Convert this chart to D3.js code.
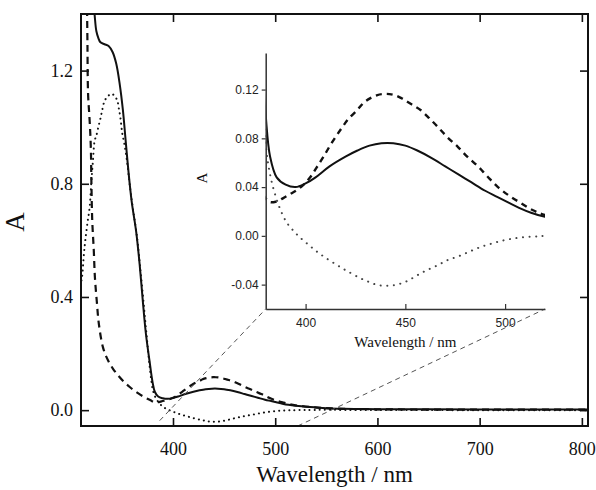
<!DOCTYPE html>
<html><head><meta charset="utf-8">
<script src="https://cdn.jsdelivr.net/npm/d3@7"></script>
<style>
html,body{margin:0;padding:0;background:#fff;}
svg{display:block;}
</style></head>
<body>
<svg id="chart" width="596" height="490"></svg>
<script>
// ---- data (wavelength nm, absorbance) ----
const solidNm = [322,323.5,325,327,329,333,337,341,344.5,347.8,351,353.5,356,359.5,364,367.5,370.6,373.5,377,380,382.2,385.5,390,395,400,405,412,420,426,432,438,444,450,456,463,470,477,483,490,496,502,507,513,520,534,550,566,583,600,650,700,750,806];
const solidA  = [1.46,1.39,1.34,1.315,1.30,1.293,1.287,1.265,1.224,1.154,1.06,0.96,0.86,0.74,0.63,0.51,0.38,0.27,0.175,0.099,0.065,0.048,0.042,0.040,0.043,0.048,0.057,0.065,0.070,0.074,0.076,0.076,0.074,0.070,0.064,0.057,0.050,0.044,0.037,0.032,0.027,0.023,0.019,0.0156,0.011,0.007,0.005,0.004,0.0035,0.003,0.0025,0.002,0.002];

const dashedNm = [315.8,316.3,316.9,318.5,319.6,320.2,321,322.5,323.6,325.6,327.4,331.5,336.4,341,346,352,358,365,372,378,381.7,385,388.8,392,395.6,399,402.3,405.5,409,413,417.5,421.5,425.8,429,432.5,436,439.3,442,444.3,448,451,454.5,457.8,462,466.2,471,476.3,481,486.4,491,496.4,502,508.2,514,520,535,550,575,600,650,700,750,806];
const dashedA  = [1.46,1.30,1.12,1.02,0.93,0.80,0.67,0.565,0.47,0.378,0.307,0.222,0.176,0.148,0.124,0.10,0.081,0.062,0.046,0.035,0.028,0.028,0.031,0.034,0.0375,0.042,0.048,0.056,0.065,0.076,0.087,0.096,0.103,0.109,0.113,0.1155,0.1164,0.1163,0.1156,0.113,0.110,0.1065,0.103,0.0965,0.0895,0.081,0.073,0.065,0.057,0.049,0.040,0.033,0.0266,0.021,0.017,0.011,0.007,0.004,0.003,0.002,0.002,0.002,0.002];

const dottedNm = [309.5,311,312.9,314.2,316.2,318.5,320,321.7,323.4,325,327.3,329.3,330.8,333.2,336.5,339.6,342.5,345.5,347,348.5,350.3,352.5,355,357.6,360.5,364.5,368,371.2,374.3,377,379,380.5,382,384,387,390.5,394,397.3,401.6,405.7,410,415.8,421,427.8,432,436.1,441,446.2,451,456.3,461,466.3,471,476.3,482,488,494,499.8,505,509.8,515,519.8,540,600,700,806];
const dottedA  = [0.44,0.47,0.554,0.60,0.659,0.718,0.80,0.882,0.953,0.97,1.006,1.035,1.061,1.094,1.11,1.118,1.112,1.094,1.066,1.035,0.98,0.94,0.88,0.80,0.72,0.62,0.50,0.38,0.26,0.16,0.10,0.068,0.052,0.038,0.023,0.011,0.004,-0.0015,-0.0075,-0.013,-0.018,-0.024,-0.029,-0.035,-0.038,-0.0403,-0.041,-0.0398,-0.037,-0.032,-0.028,-0.024,-0.020,-0.017,-0.013,-0.009,-0.006,-0.0035,-0.002,-0.001,-0.0005,0.0,0.001,0.0005,0.0,0.0];

const mainXTicks = [400,500,600,700,800];
const mainYTicks = [0.0,0.4,0.8,1.2];
const insetXTicks = [400,450,500];
const insetYTicks = [-0.04,0.00,0.04,0.08,0.12];
const insetYTickLabels = ["-0.04","0.00","0.04","0.08","0.12"];

// zoom connector lines: main point (nm, A) -> inset corner (nm, A)
const zoomFromNm = [387, 522];
const zoomFromA  = [-0.037, -0.056];
const zoomToNm   = [380, 520];
const zoomToA    = [-0.06, -0.06];

const xLabel = "Wavelength / nm";
const yLabel = "A";

// ---- layout ----
const svg = d3.select("#chart");
const M = {l:81, t:14, r:588, b:426};
const x = d3.scaleLinear().domain([310,806]).range([M.l, M.r]);
const y = d3.scaleLinear().domain([-0.056,1.4]).range([M.b, M.t]);

const I = {l:265.7, t:53, r:545, b:309};
const xi = d3.scaleLinear().domain([380,520]).range([I.l, I.r]);
const yi = d3.scaleLinear().domain([-0.06,0.15]).range([I.b, I.t]);

const serif = "'Liberation Serif','Times New Roman',serif";
const sans = "'Liberation Sans',Arial,sans-serif";

const defs = svg.append("defs");
defs.append("clipPath").attr("id","clipMain").append("rect")
  .attr("x",M.l).attr("y",M.t).attr("width",M.r-M.l).attr("height",M.b-M.t);
defs.append("clipPath").attr("id","clipInset").append("rect")
  .attr("x",I.l).attr("y",I.t-2).attr("width",I.r-I.l).attr("height",I.b-I.t+2);

const series = [
  {nm: solidNm, a: solidA, dash: null, w: 2, wi: 2},
  {nm: dashedNm, a: dashedA, dash: "7,5", w: 2.2, wi: 2.4, dashi: "6,5"},
  {nm: dottedNm, a: dottedA, dash: "0.1,5", w: 2, wi: 2, dashi: "0.1,6.5", cap: true}
];

// ---- main plot ----
const gMain = svg.append("g").attr("clip-path","url(#clipMain)");
series.forEach(s => {
  const pts = s.nm.map((v,i)=>[v, s.a[i]]);
  const line = d3.line().x(d=>x(d[0])).y(d=>y(d[1])).curve(d3.curveCatmullRom.alpha(0.5));
  gMain.append("path").attr("d", line(pts)).attr("fill","none")
    .attr("stroke","#111").attr("stroke-width", s.w)
    .attr("stroke-dasharray", s.dash).attr("stroke-linecap", s.cap ? "round" : "butt")
    .attr("stroke-linejoin","round");
});

// zoom connector lines
zoomFromNm.forEach((v,i)=>{
  svg.append("line")
    .attr("x1", x(v)).attr("y1", y(zoomFromA[i]))
    .attr("x2", xi(zoomToNm[i])).attr("y2", yi(zoomToA[i]))
    .attr("stroke","#555").attr("stroke-width",1).attr("stroke-dasharray","5,4");
});

// main axes
function styleAxis(g){
  g.select(".domain").remove();
  g.selectAll(".tick line").attr("stroke","#111").attr("stroke-width",1.6);
}
svg.append("g").attr("transform",`translate(0,${M.b})`)
  .call(d3.axisBottom(x).tickValues(mainXTicks).tickSize(-8).tickPadding(16).tickFormat(d3.format("d")))
  .call(styleAxis)
  .selectAll("text").attr("font-family",serif).attr("font-size",18).attr("fill","#111");
svg.append("g").attr("transform",`translate(0,${M.t})`)
  .call(d3.axisTop(x).tickValues(mainXTicks).tickSize(-8).tickFormat(""))
  .call(styleAxis);
svg.append("g").attr("transform",`translate(${M.l},0)`)
  .call(d3.axisLeft(y).tickValues(mainYTicks).tickSize(-8).tickPadding(8).tickFormat(d3.format(".1f")))
  .call(styleAxis)
  .selectAll("text").attr("font-family",serif).attr("font-size",18).attr("fill","#111");
svg.append("g").attr("transform",`translate(${M.r},0)`)
  .call(d3.axisRight(y).tickValues(mainYTicks).tickSize(-8).tickFormat(""))
  .call(styleAxis);

svg.append("rect").attr("x",M.l).attr("y",M.t).attr("width",M.r-M.l).attr("height",M.b-M.t)
  .attr("fill","none").attr("stroke","#111").attr("stroke-width",2);

svg.append("text").attr("x",(M.l+M.r)/2).attr("y",482).attr("text-anchor","middle")
  .attr("font-family",serif).attr("font-size",23).attr("fill","#111").text(xLabel);
svg.append("text").attr("transform",`translate(24,222) rotate(-90)`).attr("text-anchor","middle")
  .attr("font-family",serif).attr("font-size",27).attr("fill","#111").text(yLabel);

// ---- inset ----
const gIn = svg.append("g").attr("clip-path","url(#clipInset)");
series.forEach(s => {
  const pts = s.nm.map((v,i)=>[v, s.a[i]]).filter(d=>d[0]>=360 && d[0]<=540);
  const line = d3.line().x(d=>xi(d[0])).y(d=>yi(d[1])).curve(d3.curveCatmullRom.alpha(0.5));
  gIn.append("path").attr("d", line(pts)).attr("fill","none")
    .attr("stroke", s.cap ? "#444" : "#111").attr("stroke-width", s.wi)
    .attr("stroke-dasharray", s.dashi || null).attr("stroke-linecap", s.cap ? "round" : "butt")
    .attr("stroke-linejoin","round");
});

const axInB = svg.append("g").attr("transform",`translate(0,${I.b})`)
  .call(d3.axisBottom(xi).tickValues(insetXTicks).tickSize(-5).tickSizeOuter(0).tickPadding(9.5).tickFormat(d3.format("d")));
const axInL = svg.append("g").attr("transform",`translate(${I.l},0)`)
  .call(d3.axisLeft(yi).tickValues(insetYTicks).tickSize(4).tickSizeOuter(0).tickPadding(3)
    .tickFormat((d,i)=>insetYTickLabels[i]));
[axInB, axInL].forEach(g=>{
  g.select(".domain").attr("stroke","#333").attr("stroke-width",1.5);
  g.selectAll(".tick line").attr("stroke","#333").attr("stroke-width",1.2);
  g.selectAll("text").attr("font-family",sans).attr("font-size",12).attr("fill","#222");
});

svg.append("text").attr("x",(I.l+I.r)/2).attr("y",347).attr("text-anchor","middle")
  .attr("font-family",serif).attr("font-size",15).attr("fill","#111").text(xLabel);
svg.append("text").attr("transform",`translate(207,178) rotate(-90)`).attr("text-anchor","middle")
  .attr("font-family",serif).attr("font-size",15).attr("fill","#111").text(yLabel);
</script>
</body></html>
